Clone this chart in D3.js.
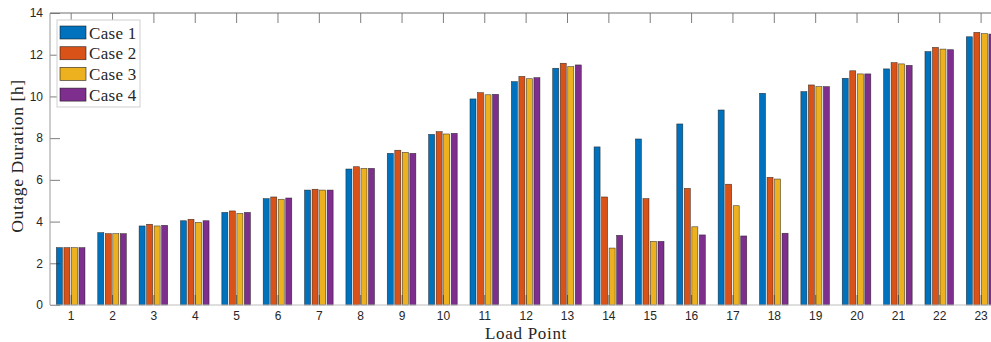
<!DOCTYPE html>
<html>
<head>
<meta charset="utf-8">
<script src="https://cdn.jsdelivr.net/npm/d3@7/dist/d3.min.js"></script>
<style>
  html, body { margin: 0; padding: 0; background: #fff; }
  svg { display: block; }
</style>
</head>
<body>
<svg id="chart" width="991" height="342"></svg>
<script>
// Load points on the x axis
const loadPoints = d3.range(1, 24);

// Outage duration [h] per load point, one array per case
const case1 = [2.75, 3.47, 3.79, 4.04, 4.44, 5.10, 5.51, 6.52, 7.27, 8.18, 9.88, 10.71, 11.35, 7.58, 7.96, 8.68, 9.35, 10.15, 10.23, 10.87, 11.32, 12.15, 12.86];
const case2 = [2.75, 3.42, 3.87, 4.11, 4.51, 5.18, 5.55, 6.63, 7.42, 8.31, 10.18, 10.96, 11.59, 5.18, 5.10, 5.59, 5.79, 6.12, 10.55, 11.23, 11.62, 12.35, 13.07];
const case3 = [2.75, 3.42, 3.79, 3.96, 4.39, 5.07, 5.51, 6.55, 7.32, 8.20, 10.08, 10.85, 11.43, 2.73, 3.05, 3.75, 4.76, 6.04, 10.47, 11.08, 11.56, 12.27, 13.01];
const case4 = [2.75, 3.42, 3.82, 4.04, 4.44, 5.13, 5.51, 6.55, 7.27, 8.23, 10.10, 10.90, 11.51, 3.34, 3.05, 3.36, 3.31, 3.44, 10.47, 11.08, 11.49, 12.24, 12.99];

const seriesNames = ["Case 1", "Case 2", "Case 3", "Case 4"];
const seriesColors = ["#0072BD", "#D95319", "#EDB120", "#7E2F8E"];
const yTicks = [0, 2, 4, 6, 8, 10, 12, 14];

const series = [case1, case2, case3, case4];

const svg = d3.select("#chart");
const plotLeft = 50, plotTop = 13, plotBottom = 305;
const unitPx = 41.36;

const x = d3.scaleLinear().domain([0.5, 23.5]).range([plotLeft, plotLeft + 23 * unitPx]);
const y = d3.scaleLinear().domain([0, 14]).range([plotBottom, plotTop]);

// grouped bar geometry (in x-axis units)
const groupWidth = 4 / (4 + 1.5);
const slot = groupWidth / 4;
const barW = slot * 0.8;

const plot = svg.append("g");

series.forEach((vals, si) => {
  plot.append("g")
    .selectAll("rect")
    .data(vals)
    .join("rect")
    .attr("x", (d, i) => x(loadPoints[i] + (si - 1.5) * slot - barW / 2))
    .attr("width", x(barW) - x(0))
    .attr("y", d => y(d))
    .attr("height", d => y(0) - y(d))
    .attr("fill", seriesColors[si])
    .attr("stroke", "rgba(20,20,20,0.75)")
    .attr("stroke-width", 0.6);
});

// axes box
const axisColor = "#262626";
const xEnd = x(23.5);

const gTop = svg.append("g").attr("transform", `translate(0,${plotTop})`)
  .call(d3.axisTop(x).tickValues(loadPoints).tickSize(-10).tickFormat(""));
const gBottom = svg.append("g").attr("transform", `translate(0,${plotBottom})`)
  .call(d3.axisBottom(x).tickValues(loadPoints).tickSize(-10).tickPadding(6).tickFormat(d3.format("d")));
const gLeft = svg.append("g").attr("transform", `translate(${plotLeft},0)`)
  .call(d3.axisLeft(y).tickValues(yTicks).tickSize(-10).tickPadding(7).tickFormat(d3.format("d")));

[gTop, gBottom, gLeft].forEach(g => {
  g.select(".domain").remove();
  g.selectAll(".tick line").attr("stroke", axisColor).attr("stroke-width", 0.8).attr("stroke-opacity", 0.75);
  g.selectAll("text")
    .attr("fill", axisColor)
    .style("font-family", "'Liberation Sans', Arial, sans-serif")
    .style("font-size", "12px");
});

svg.append("line").attr("x1", plotLeft).attr("x2", xEnd).attr("y1", plotTop).attr("y2", plotTop)
  .attr("stroke", "#6e6e6e").attr("stroke-width", 1);
svg.append("line").attr("x1", plotLeft).attr("x2", xEnd).attr("y1", plotBottom).attr("y2", plotBottom)
  .attr("stroke", "#bdbdbd").attr("stroke-width", 1);
svg.append("line").attr("x1", plotLeft).attr("x2", plotLeft).attr("y1", plotTop).attr("y2", plotBottom)
  .attr("stroke", "#9a9a9a").attr("stroke-width", 1);

// axis titles
const serif = "'Liberation Serif', 'DejaVu Serif', serif";
svg.append("text")
  .attr("x", 526).attr("y", 339)
  .attr("text-anchor", "middle")
  .style("font-family", serif).style("font-size", "17px").style("letter-spacing", "0.7px")
  .attr("fill", "#262626")
  .text("Load Point");
svg.append("text")
  .attr("transform", `translate(23,${(plotTop + plotBottom) / 2 - 3}) rotate(-90)`)
  .attr("text-anchor", "middle")
  .style("font-family", serif).style("font-size", "17.5px").style("letter-spacing", "0.6px")
  .attr("fill", "#262626")
  .text("Outage Duration [h]");

// legend
const legend = svg.append("g").attr("transform", "translate(57,20)");
legend.append("rect").attr("width", 83).attr("height", 87)
  .attr("fill", "#fff").attr("stroke", "#d0d0d0").attr("stroke-width", 1);
seriesNames.forEach((name, i) => {
  const row = legend.append("g").attr("transform", `translate(3,${6 + i * 20.7})`);
  row.append("rect").attr("width", 26).attr("height", 13)
    .attr("fill", seriesColors[i]).attr("stroke", "rgba(20,20,20,0.8)").attr("stroke-width", 0.7);
  row.append("text").attr("x", 29).attr("y", 12.5)
    .style("font-family", serif).style("font-size", "17px").style("letter-spacing", "0.3px")
    .attr("fill", "#262626")
    .text(name);
});
</script>
</body>
</html>
